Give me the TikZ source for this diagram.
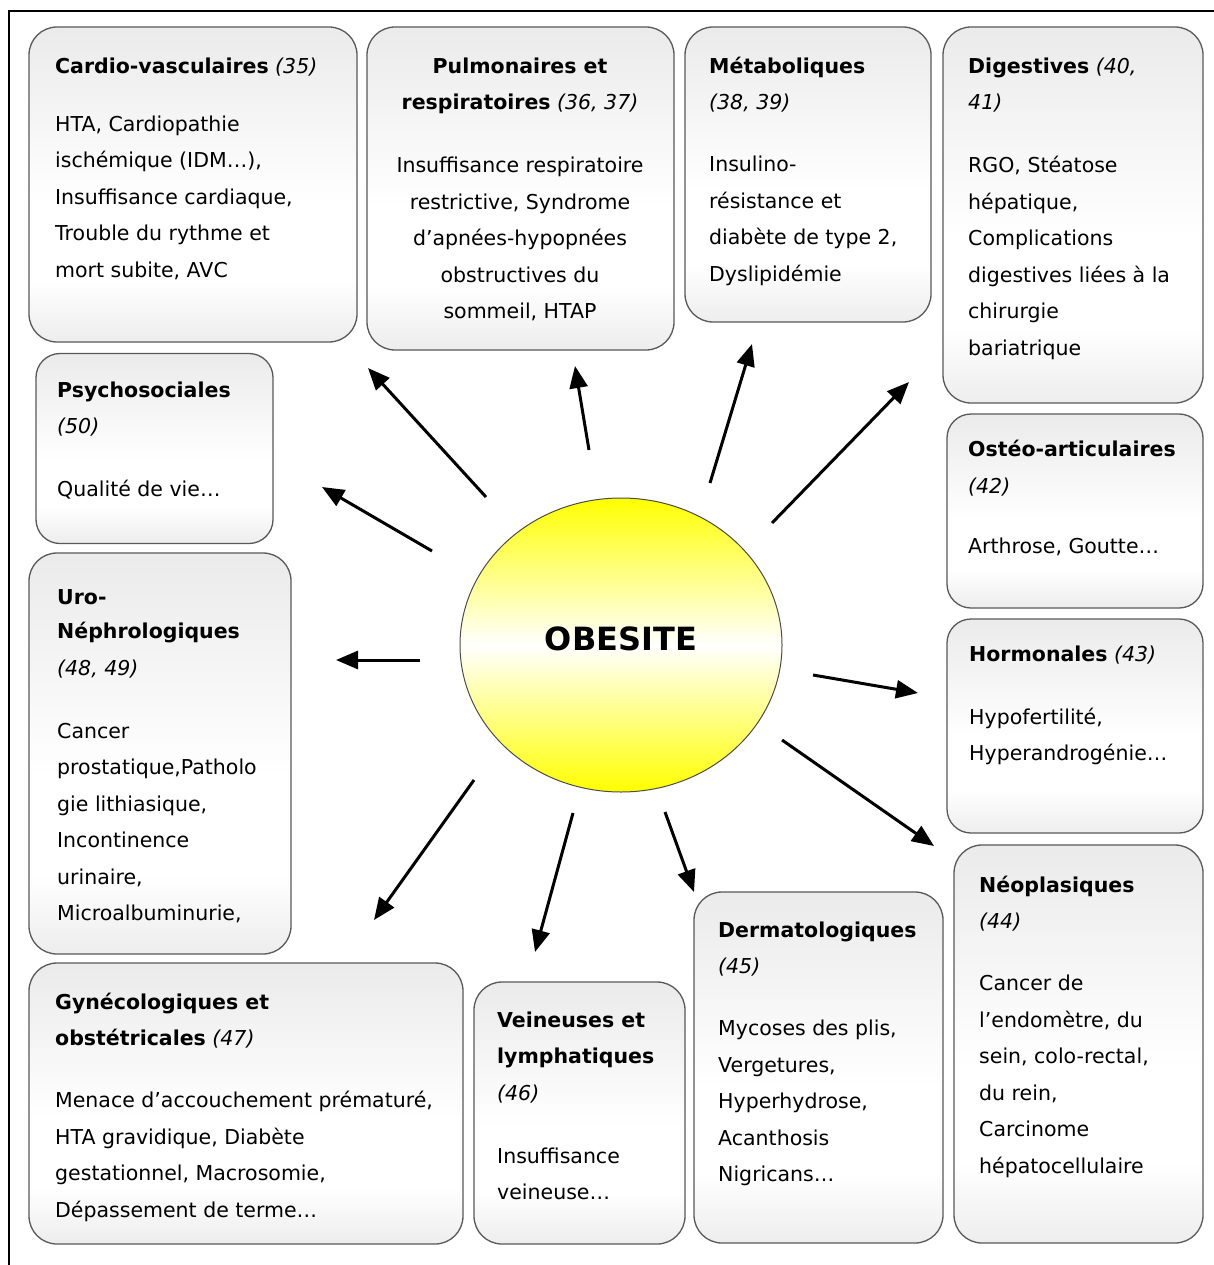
\documentclass[tikz,border=0pt]{standalone}
\usepackage{fontspec}
\setmainfont{DejaVu Sans}
\usetikzlibrary{arrows.meta,shapes.geometric}
\newcommand\rf[1]{\textit{#1}}
\pgfdeclareverticalshading{boxshade}{100bp}{color(0bp)=(black!7); color(25bp)=(black!7); color(35bp)=(white); color(47bp)=(white); color(75bp)=(black!8); color(100bp)=(black!8)}
\begin{document}
\begin{tikzpicture}[x=1pt,y=-1pt,
  box/.style={draw=black!65, line width=1.3pt, rounded corners=28pt,
    shading=boxshade, inner sep=0pt},
  txt/.style={anchor=north west, inner sep=0pt, align=left,
    font=\fontsize{20.5}{36.5}\selectfont},
  ctxt/.style={anchor=north, inner sep=0pt, align=center,
    font=\fontsize{20.5}{36.5}\selectfont},
  arr/.style={line width=3pt, -{Triangle[length=22pt,width=18pt]}}]
\useasboundingbox (0,0) rectangle (1214,1265);
\fill[white] (0,0) rectangle (1214,1265);
% frame
\draw[line width=2pt] (9,1265) -- (9,11) -- (1214,11);

% boxes
\node[box, minimum width=328pt, minimum height=315pt] (cardio) at (193,184.5) {};
\node[box, minimum width=307pt, minimum height=323pt] (pulmo) at (520.5,188.5) {};
\node[box, minimum width=246pt, minimum height=295pt] (metab) at (808,174.5) {};
\node[box, minimum width=260pt, minimum height=376pt] (digest) at (1073,215) {};
\node[box, minimum width=237pt, minimum height=190pt, rounded corners=24pt] (psycho) at (154.5,448.5) {};
\node[box, minimum width=256pt, minimum height=194pt, rounded corners=24pt] (osteo) at (1075,511) {};
\node[box, minimum width=262pt, minimum height=401pt] (uro) at (160,753.5) {};
\node[box, minimum width=256pt, minimum height=214pt, rounded corners=24pt] (hormon) at (1075,726) {};
\node[box, minimum width=249pt, minimum height=398pt] (neo) at (1078.5,1044) {};
\node[box, minimum width=434pt, minimum height=281pt] (gyn) at (246,1103.5) {};
\node[box, minimum width=211pt, minimum height=262pt] (vein) at (579.5,1113) {};
\node[box, minimum width=249pt, minimum height=351pt] (derm) at (818.5,1067.5) {};

% texts
\node[txt] (tcardio) at (55,47.45) {\strut\textbf{Cardio-vasculaires} \rf{(35)}\\[21.5pt]
HTA, Cardiopathie\\ ischémique (IDM…),\\ Insuffisance cardiaque,\\ Trouble du rythme et\\ mort subite, AVC};
\node[ctxt] (tpulmo) at (520,47.45) {\strut\textbf{Pulmonaires et}\\ \textbf{respiratoires} \rf{(36, 37)}\\[26.5pt]
Insuffisance respiratoire\\ restrictive, Syndrome\\ d’apnées-hypopnées\\ obstructives du\\ sommeil, HTAP};
\node[txt] (tmetab) at (709,47.45) {\strut\textbf{Métaboliques}\\ \rf{(38, 39)}\\[25.5pt]
Insulino-\\ résistance et\\ diabète de type 2,\\ Dyslipidémie};
\node[txt] (tdigest) at (968,47.45) {\strut\textbf{Digestives} \rf{(40,}\\ \rf{41)}\\[26.5pt]
RGO, Stéatose\\ hépatique,\\ Complications\\ digestives liées à la\\ chirurgie\\ bariatrique};
\node[txt] (tpsycho) at (57,371.45) {\strut\textbf{Psychosociales}\\ \rf{(50)}\\[26.5pt]
Qualité de vie…};
\node[txt] (tosteo) at (968,430.45) {\strut\textbf{Ostéo-articulaires}\\[1pt] \rf{(42)}\\[23.5pt]
Arthrose, Goutte…};
\node[txt] (turo) at (57,578.45) {\strut\textbf{Uro-}\\[-2pt] \textbf{Néphrologiques}\\ \rf{(48, 49)}\\[26.5pt]
Cancer\\ prostatique,Patholo\\ gie lithiasique,\\ Incontinence\\ urinaire,\\ Microalbuminurie,};
\node[txt] (thormon) at (969,635.45) {\strut\textbf{Hormonales} \rf{(43)}\\[26.5pt]
Hypofertilité,\\ Hyperandrogénie…};
\node[txt] (tneo) at (979,866.45) {\strut\textbf{Néoplasiques}\\ \rf{(44)}\\[25.5pt]
Cancer de\\ l’endomètre, du\\ sein, colo-rectal,\\ du rein,\\ Carcinome\\ hépatocellulaire};
\node[txt] (tgyn) at (55,983.45) {\strut\textbf{Gynécologiques et}\\ \textbf{obstétricales} \rf{(47)}\\[25.5pt]
Menace d’accouchement prématuré,\\ HTA gravidique, Diabète\\ gestationnel, Macrosomie,\\ Dépassement de terme…};
\node[txt] (tvein) at (497,1001.45) {\strut\textbf{Veineuses et}\\ \textbf{lymphatiques}\\ \rf{(46)}\\[26.5pt]
Insuffisance\\ veineuse…};
\node[txt] (tderm) at (718,911.45) {\strut\textbf{Dermatologiques}\\ \rf{(45)}\\[25.5pt]
Mycoses des plis,\\ Vergetures,\\ Hyperhydrose,\\ Acanthosis\\ Nigricans…};

% centre
\node[ellipse, draw=black!70, line width=1pt, minimum width=322pt, minimum height=294pt,
  top color=yellow, bottom color=yellow, middle color=white, inner sep=0pt] (obesite) at (621,645) {};
\node[inner sep=0pt, font=\bfseries\fontsize{32}{36}\selectfont] (obtxt) at (621,639) {OBESITE};

% arrow end points
\coordinate (s1) at (486,497);  \coordinate (e1) at (368,368);
\coordinate (s2) at (589,450);  \coordinate (e2) at (575,366);
\coordinate (s3) at (710,483);  \coordinate (e3) at (752,344);
\coordinate (s4) at (772,523);  \coordinate (e4) at (909,382);
\coordinate (s5) at (432,551);  \coordinate (e5) at (322,487);
\coordinate (s6) at (420,660);  \coordinate (e6) at (336,660);
\coordinate (s7) at (474,780);  \coordinate (e7) at (374,920);
\coordinate (s8) at (573,813);  \coordinate (e8) at (535,952);
\coordinate (s9) at (665,812);  \coordinate (e9) at (694,892);
\coordinate (s10) at (782,740); \coordinate (e10) at (934,846);
\coordinate (s11) at (813,675); \coordinate (e11) at (918,693);

\foreach \i in {1,...,11} \draw[arr] (s\i) -- (e\i);
\end{tikzpicture}
\end{document}
